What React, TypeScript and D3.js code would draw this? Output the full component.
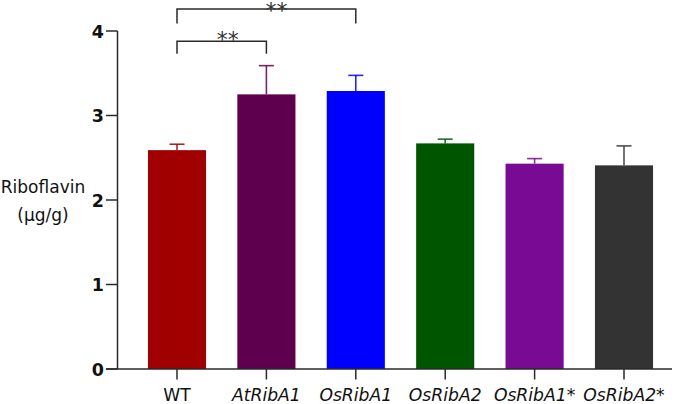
import React from "react";
import * as d3 from "d3";

const categories = ["WT", "AtRibA1", "OsRibA1", "OsRibA2", "OsRibA1*", "OsRibA2*"];
const italicFlags = [false, true, true, true, true, true];
const means = [2.59, 3.25, 3.29, 2.67, 2.43, 2.41];
const errors = [0.07, 0.34, 0.185, 0.05, 0.06, 0.23];
const colors = ["#a00000", "#5f004f", "#0000ff", "#005500", "#780a94", "#333333"];
const yTicks = [0, 1, 2, 3, 4];
const comparisons = [
  { from: "WT", to: "AtRibA1", top: 3.88, leg: 3.73, label: "**", dx: 6, dy: 5.5 },
  { from: "WT", to: "OsRibA1", top: 4.26, leg: 4.09, label: "**", dx: 10, dy: 8.7 },
];

const W = 685;
const H = 404;

export default function App() {
  const x = d3
    .scaleBand<string>()
    .domain(categories)
    .range([132.3, 668.7])
    .paddingInner(0.35)
    .paddingOuter(0.175);
  const y = d3.scaleLinear().domain([0, 4]).range([369, 31]);
  const font = "'DejaVu Sans', Verdana, sans-serif";
  const axisColor = "#2a2a2a";
  const bw = x.bandwidth();
  const cx = (c: string) => (x(c) as number) + bw / 2;

  return (
    <svg
      width={W}
      height={H}
      style={{ position: "absolute", left: 0, top: 0, background: "#fff" }}
      fontFamily={font}
    >
      {/* bars */}
      {categories.map((c, i) => (
        <g key={c}>
          <line
            x1={cx(c)}
            x2={cx(c)}
            y1={y(means[i])}
            y2={y(means[i] + errors[i])}
            stroke={colors[i]}
            strokeWidth={1.6}
            opacity={0.85}
          />
          <line
            x1={cx(c) - 7.5}
            x2={cx(c) + 7.5}
            y1={y(means[i] + errors[i])}
            y2={y(means[i] + errors[i])}
            stroke={colors[i]}
            strokeWidth={1.6}
            opacity={0.85}
          />
          <rect
            x={x(c)}
            y={y(means[i])}
            width={bw}
            height={y(0) - y(means[i])}
            fill={colors[i]}
          />
        </g>
      ))}

      {/* y axis */}
      <line x1={117.5} x2={117.5} y1={y(4)} y2={y(0)} stroke={axisColor} strokeWidth={1.5} />
      {yTicks.map((t) => (
        <g key={t}>
          <line x1={106} x2={117.5} y1={y(t)} y2={y(t)} stroke={axisColor} strokeWidth={1.5} />
          <text
            x={104}
            y={y(t) + 6.5}
            textAnchor="end"
            fontSize={17.5}
            fontWeight="bold"
            fill="#111"
          >
            {t}
          </text>
        </g>
      ))}

      {/* x axis */}
      <line x1={106} x2={672} y1={y(0)} y2={y(0)} stroke={axisColor} strokeWidth={1.5} />
      {categories.map((c, i) => (
        <g key={c}>
          <line x1={cx(c)} x2={cx(c)} y1={y(0)} y2={y(0) + 10.5} stroke={axisColor} strokeWidth={1.5} />
          <text
            x={cx(c)}
            y={401}
            textAnchor="middle"
            fontSize={17.2}
            fontStyle={italicFlags[i] ? "italic" : "normal"}
            fill="#111"
          >
            {c}
          </text>
        </g>
      ))}

      {/* y title */}
      <text x={43} y={193} textAnchor="middle" fontSize={17} fill="#111">
        Riboflavin
      </text>
      <text x={43} y={221} textAnchor="middle" fontSize={17} fill="#111">
        (μg/g)
      </text>

      {/* significance brackets */}
      {comparisons.map((cmp, k) => {
        const x1 = cx(cmp.from);
        const x2 = cx(cmp.to);
        return (
          <g key={k}>
            <path
              d={`M${x1},${y(cmp.leg)}V${y(cmp.top)}H${x2}V${y(cmp.leg)}`}
              fill="none"
              stroke={axisColor}
              strokeWidth={1.5}
            />
            <text
              x={(x1 + x2) / 2 + cmp.dx}
              y={y(cmp.top) + cmp.dy}
              textAnchor="middle"
              fontSize={22}
              fill="#333"
            >
              {cmp.label}
            </text>
          </g>
        );
      })}
    </svg>
  );
}
